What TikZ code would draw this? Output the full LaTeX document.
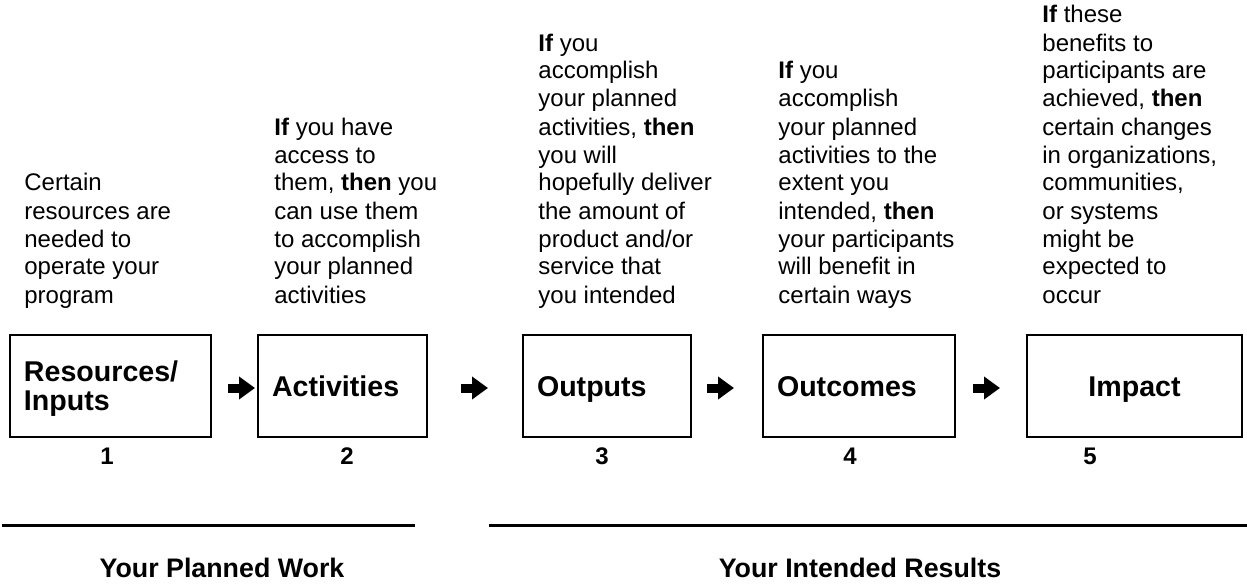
\documentclass[tikz,border=0pt]{standalone}
\usepackage{fontspec}
\setmainfont{Liberation Sans}
\usepackage{tikz}
\usetikzlibrary{arrows.meta}

\begin{document}
\begin{tikzpicture}
        [x=0.5pt, y=-0.5pt,
        bstyle/.style={draw, line width=1pt, minimum height=51pt, inner xsep=7pt, inner ysep=0pt,
                       text height=10.24pt, text depth=0pt,
                       font=\fontsize{14.3}{14.5}\selectfont\bfseries},
        tstyle/.style={anchor=base west, align=left, inner sep=0pt, font=\fontsize{12}{14}\selectfont},
        nstyle/.style={inner sep=0pt, font=\fontsize{12}{14}\selectfont\bfseries},
        astyle/.style={line width=4.5pt, -{Triangle[length=8pt, width=11pt]}},
        lstyle/.style={inner sep=0pt, font=\fontsize{13.4}{14}\selectfont\bfseries},
        rstyle/.style={line width=1.5pt}]

        \useasboundingbox (0,0) rectangle (1247,588);

        % boxes
        \node[bstyle, minimum width=100.5pt, text width=86.5pt, align=left, text depth=14.5pt] (inputs) at (110.5,386) {Resources/\\Inputs};
        \node[bstyle, minimum width=84.5pt, text width=70.5pt, align=left] (activities) at (342.5,386) {Activities};
        \node[bstyle, minimum width=84pt, text width=70pt, align=left] (outputs) at (607,386) {Outputs};
        \node[bstyle, minimum width=96pt, text width=82pt, align=left] (outcomes) at (859,386) {Outcomes};
        \node[bstyle, minimum width=107.5pt, text width=93.5pt, align=center] (impact) at (1134.5,386) {Impact};

        % arrows
        \coordinate (arrow1s) at (228,388);  \coordinate (arrow1e) at (255,388);
        \coordinate (arrow2s) at (461,388);  \coordinate (arrow2e) at (488,388);
        \coordinate (arrow3s) at (707,388);  \coordinate (arrow3e) at (734,388);
        \coordinate (arrow4s) at (973,388);  \coordinate (arrow4e) at (1000,388);
        \draw[astyle] (arrow1s) -- (arrow1e);
        \draw[astyle] (arrow2s) -- (arrow2e);
        \draw[astyle] (arrow3s) -- (arrow3e);
        \draw[astyle] (arrow4s) -- (arrow4e);

        % numbers
        \node[nstyle] (num1) at (107,456) {1};
        \node[nstyle] (num2) at (347,456) {2};
        \node[nstyle] (num3) at (602,456) {3};
        \node[nstyle] (num4) at (850,456) {4};
        \node[nstyle] (num5) at (1090,456) {5};

        % texts above
        \node[tstyle] (text1) at (24,303) {Certain\\resources are\\needed to\\operate your\\program};
        \node[tstyle] (text2) at (274,303) {\textbf{If} you have\\access to\\them, \textbf{then} you\\can use them\\to accomplish\\your planned\\activities};
        \node[tstyle] (text3) at (538,303) {\textbf{If} you\\accomplish\\your planned\\activities, \textbf{then}\\you will\\hopefully deliver\\the amount of\\product and/or\\service that\\you intended};
        \node[tstyle] (text4) at (778,303) {\textbf{If} you\\accomplish\\your planned\\activities to the\\extent you\\intended, \textbf{then}\\your participants\\will benefit in\\certain ways};
        \node[tstyle] (text5) at (1042,303) {\textbf{If} these\\benefits to\\participants are\\achieved, \textbf{then}\\certain changes\\in organizations,\\communities,\\or systems\\might be\\expected to\\occur};

        % rules and labels
        \coordinate (work1) at (2,525);
        \coordinate (work2) at (415,525);
        \coordinate (res1) at (489,525);
        \coordinate (res2) at (1247,525);
        \draw[rstyle] (work1) -- (work2);
        \draw[rstyle] (res1) -- (res2);
        \node[lstyle] (work) at (222,568) {Your Planned Work};
        \node[lstyle] (results) at (860,568) {Your Intended Results};
    \end{tikzpicture}
\end{document}
